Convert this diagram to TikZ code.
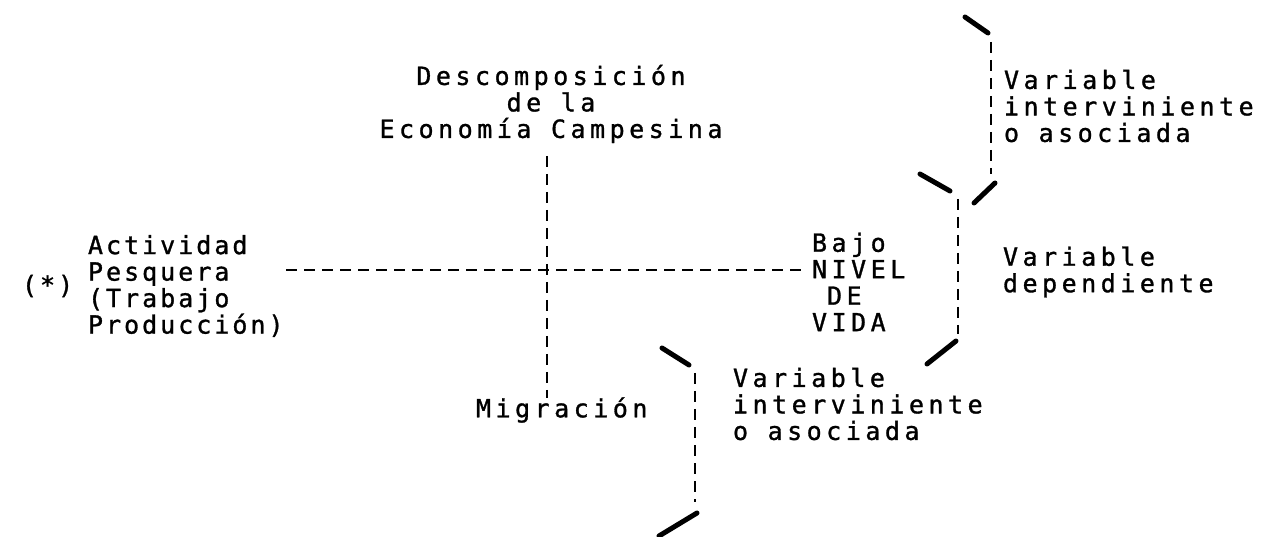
\documentclass[tikz,border=0pt]{standalone}
\usepackage{fontspec}
\newfontfamily\tw[LetterSpace=18,FakeBold=1.2]{DejaVu Sans Mono}
\newfontfamily\twn[LetterSpace=12,FakeBold=1.2]{DejaVu Sans Mono}
\begin{document}
\begin{tikzpicture}[x=1pt,y=-1pt,
  lbl/.style={inner sep=0pt,outer sep=0pt,font=\tw\fontsize{25}{26.5}\selectfont},
  lbln/.style={inner sep=0pt,outer sep=0pt,font=\twn\fontsize{25}{26.5}\selectfont},
  dline/.style={line width=2.4pt,dash pattern=on 11pt off 7pt},
  stroke/.style={line width=5pt,line cap=round}]
\useasboundingbox (0,0) rectangle (1262,537);
% texts
\node[lbl,align=center] (decomp) at (551,104) {Descomposición\\de la\\Economía Campesina};
\node[lbln,align=left,anchor=west] (activ) at (88,286) {Actividad\\Pesquera\\(Trabajo\\Producción)};
\node[lbln,anchor=west] (star) at (22,286) {(*)};
\node[lbl,align=left,anchor=west] (nivel) at (812,282) {Bajo\\NIVEL\\\hphantom{D}DE\\VIDA};
\node[lbl,anchor=west] (migr) at (476,410) {Migración};
\node[lbl,align=left,anchor=west] (v1) at (1004,106) {Variable\\interviniente\\o asociada};
\node[lbl,align=left,anchor=west] (v2) at (1003,272) {Variable\\dependiente};
\node[lbl,align=left,anchor=west] (v3) at (733,404) {Variable\\interviniente\\o asociada};
% cross
\coordinate (vtop) at (547,156);
\coordinate (vbot) at (547,398);
\coordinate (hl) at (286,270);
\coordinate (hr) at (807,270);
\draw[dline] (vtop) -- (vbot);
\draw[dline] (hl) -- (hr);
% bracket 1
\coordinate (b1a) at (965,17);
\coordinate (b1b) at (988,33);
\coordinate (b1c) at (991,42);
\coordinate (b1d) at (991,174);
\coordinate (b1e) at (995,183);
\coordinate (b1f) at (974,203);
\draw[stroke] (b1a) -- (b1b);
\draw[dline] (b1c) -- (b1d);
\draw[stroke] (b1e) -- (b1f);
% bracket 2
\coordinate (b2a) at (920,174);
\coordinate (b2b) at (950,191);
\coordinate (b2c) at (958,199);
\coordinate (b2d) at (958,334);
\coordinate (b2e) at (956,341);
\coordinate (b2f) at (927,364);
\draw[stroke] (b2a) -- (b2b);
\draw[dline] (b2c) -- (b2d);
\draw[stroke] (b2e) -- (b2f);
% bracket 3
\coordinate (b3a) at (662,348);
\coordinate (b3b) at (689,365);
\coordinate (b3c) at (695,373);
\coordinate (b3d) at (695,502);
\coordinate (b3e) at (697,513);
\coordinate (b3f) at (659,536);
\draw[stroke] (b3a) -- (b3b);
\draw[dline] (b3c) -- (b3d);
\draw[stroke] (b3e) -- (b3f);
\end{tikzpicture}
\end{document}
